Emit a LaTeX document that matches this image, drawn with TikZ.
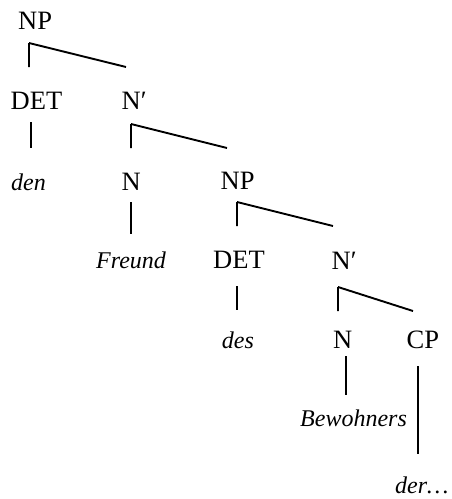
\documentclass[tikz,border=0pt]{standalone}
\usepackage{fontspec}
\setmainfont{Liberation Serif}
\begin{document}
\begin{tikzpicture}[x=1pt,y=-1pt,
  lbl/.style={anchor=base west,inner sep=0pt,font=\fontsize{26.5}{30}\selectfont},
  word/.style={anchor=base west,inner sep=0pt,font=\fontsize{24}{28}\selectfont\itshape},
  branch/.style={line width=1.9pt,line cap=butt}]
\useasboundingbox (0,0) rectangle (451,499);
% category labels
\node[lbl]  (np0)  at (18,29)     {NP};
\node[lbl]  (det1) at (10.5,109)  {DET};
\node[lbl]  (nb1)  at (121.5,109) {N′};
\node[word] (den)  at (11,190)    {den};
\node[lbl]  (n2)   at (121.5,190) {N};
\node[lbl]  (np2)  at (220.5,189.5) {NP};
\node[word] (freund) at (96,268.3) {Freund};
\node[lbl]  (det3) at (213,268.5) {DET};
\node[lbl]  (nb3)  at (331.5,269) {N′};
\node[word] (des)  at (221.7,348) {des};
\node[lbl]  (n4)   at (333,348)   {N};
\node[lbl]  (cp)   at (406.5,348) {CP};
\node[word] (bew)  at (300,426)   {Bewohners};
\node[word] (der)  at (395,493.5) {der…};
% branches: vertical stroke to the left daughter, slanted stroke to the right
\draw[branch] (np0.base west) ++(11,14) coordinate (np0t) -- ++(0,24) (np0t) -- ++(97,24);
\draw[branch] (det1.base west) ++(20.5,13) -- ++(0,26);
\draw[branch] (nb1.base west) ++(9.5,15) coordinate (nb1t) -- ++(0,24) (nb1t) -- ++(96,24);
\draw[branch] (n2.base west) ++(9.5,12) -- ++(0,32);
\draw[branch] (np2.base west) ++(16.5,12.5) coordinate (np2t) -- ++(0,24) (np2t) -- ++(96,24);
\draw[branch] (det3.base west) ++(24,17.5) -- ++(0,24);
\draw[branch] (nb3.base west) ++(6.5,18) coordinate (nb3t) -- ++(0,24) (nb3t) -- ++(75,24);
\draw[branch] (n4.base west) ++(13,8) -- ++(0,39);
\draw[branch] (cp.base west) ++(11.5,18) -- ++(0,88);
\end{tikzpicture}
\end{document}
